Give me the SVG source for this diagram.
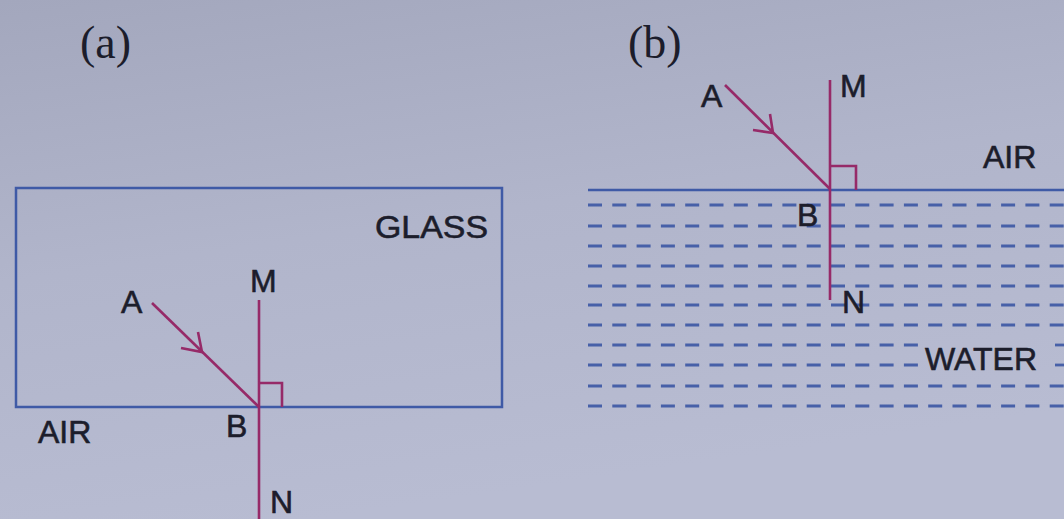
<svg xmlns="http://www.w3.org/2000/svg" width="1064" height="519" viewBox="0 0 1064 519">
  <defs>
    <linearGradient id="bg" x1="0" y1="0" x2="0.3" y2="1">
      <stop offset="0" stop-color="#a3a7bd"/>
      <stop offset="0.5" stop-color="#b1b5cb"/>
      <stop offset="1" stop-color="#b8bcd2"/>
    </linearGradient>
    <style>
      .lbl { font-family: "Liberation Sans", Arial, sans-serif; font-size: 32px; fill: #1c1d2b; stroke: #1c1d2b; stroke-width: 0.6; }
      .tag { font-family: "Liberation Serif", "Times New Roman", serif; font-size: 46px; fill: #1c1d2b; }
      .blue { stroke: #3f5aa6; stroke-width: 2.5; fill: none; }
      .dash { stroke: #4760a8; stroke-width: 2.8; fill: none; stroke-dasharray: 14 10.3; }
      .ray { stroke: #962a68; stroke-width: 2.6; fill: none; stroke-linejoin: miter; }
    </style>
  </defs>
  <rect x="0" y="0" width="1064" height="519" fill="url(#bg)"/>

  <!-- Panel (a) -->
  <g id="panel-a">
    <text class="tag" x="80" y="58">(a)</text>
    <g id="glass-block">
      <rect class="blue" x="16" y="188" width="486" height="219"/>
      <text class="lbl" x="375" y="238" textLength="113" lengthAdjust="spacingAndGlyphs">GLASS</text>
      <text class="lbl" x="38" y="443">AIR</text>
    </g>
    <g id="a-connectors">
      <line class="ray" x1="259" y1="300" x2="259" y2="519"/>
      <line class="ray" x1="152" y1="303" x2="259" y2="407"/>
      <polyline class="ray" points="181,348 202,352 198,332"/>
      <polyline class="ray" points="259,383 282,383 282,407"/>
    </g>
    <g id="a-labels">
      <text class="lbl" x="250" y="292">M</text>
      <text class="lbl" x="121" y="313">A</text>
      <text class="lbl" x="226" y="437">B</text>
      <text class="lbl" x="270" y="513">N</text>
    </g>
  </g>

  <!-- Panel (b) -->
  <g id="panel-b">
    <text class="tag" x="628" y="58">(b)</text>
    <g id="water">
      <line class="blue" x1="588" y1="190" x2="1064" y2="190"/>
      <line class="dash" x1="588" y1="205" x2="1064" y2="205"/>
      <line class="dash" x1="588" y1="226" x2="1064" y2="226"/>
      <line class="dash" x1="588" y1="246" x2="1064" y2="246"/>
      <line class="dash" x1="588" y1="266" x2="1064" y2="266"/>
      <line class="dash" x1="588" y1="286" x2="1064" y2="286"/>
      <line class="dash" x1="588" y1="305" x2="1064" y2="305"/>
      <line class="dash" x1="588" y1="325" x2="1064" y2="325"/>
      <line class="dash" x1="588" y1="345" x2="919" y2="345"/>
      <line class="dash" x1="588" y1="365" x2="919" y2="365"/>
      <line x1="1055" y1="345" x2="1064" y2="345" stroke="#4760a8" stroke-width="2.8"/>
      <line x1="1055" y1="365" x2="1064" y2="365" stroke="#4760a8" stroke-width="2.8"/>
      <line class="dash" x1="588" y1="386" x2="1064" y2="386"/>
      <line class="dash" x1="588" y1="406" x2="1064" y2="406"/>
      <text class="lbl" x="983" y="168">AIR</text>
      <text class="lbl" x="925" y="370">WATER</text>
    </g>
    <g id="b-connectors">
      <line class="ray" x1="830" y1="80" x2="830" y2="300"/>
      <line class="ray" x1="725" y1="85" x2="830" y2="189"/>
      <polyline class="ray" points="753,130 773,133 770,114"/>
      <polyline class="ray" points="830,166 856,166 856,190"/>
    </g>
    <g id="b-labels">
      <text class="lbl" x="840" y="97">M</text>
      <text class="lbl" x="701" y="107">A</text>
      <text class="lbl" x="797" y="226">B</text>
      <text class="lbl" x="842" y="313">N</text>
    </g>
  </g>
</svg>
